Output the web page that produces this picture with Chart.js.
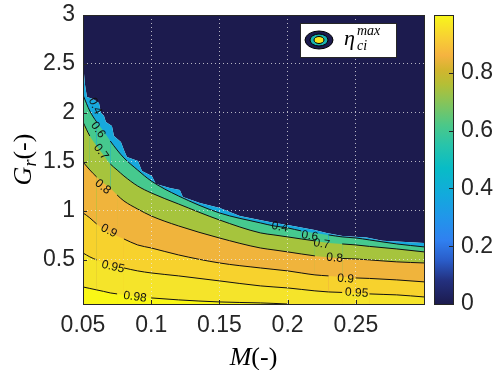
<!DOCTYPE html>
<html>
<head>
<meta charset="utf-8">
<script src="https://cdn.jsdelivr.net/npm/chart.js@4.4.1/dist/chart.umd.min.js"></script>
<style>
  html, body { margin: 0; padding: 0; background: #fff; }
</style>
</head>
<body>
<canvas id="chart" width="495" height="370"></canvas>
<script>
// Contour levels of eta_ci^max over (M, G_r).
const M_GRID = [0.05, 0.055, 0.06, 0.065, 0.07, 0.075, 0.08, 0.09, 0.1, 0.12, 0.15, 0.18, 0.19, 0.2, 0.21, 0.22, 0.23, 0.24, 0.25, 0.26, 0.28, 0.3];
const GR_060 = [2.184, 2.020, 1.908, 1.816, 1.714, 1.622, 1.541, 1.418, 1.306, 1.153, 0.980, 0.878, 0.847, 0.827, 0.796, 0.776, 0.755, 0.735, 0.724, 0.704, 0.663, 0.633];
const GR_070 = [1.908, 1.765, 1.663, 1.571, 1.480, 1.418, 1.357, 1.255, 1.184, 1.071, 0.908, 0.776, 0.755, 0.735, 0.714, 0.694, 0.673, 0.663, 0.653, 0.638, 0.612, 0.582];
const GR_080 = [1.500, 1.418, 1.347, 1.286, 1.235, 1.163, 1.102, 1.020, 0.949, 0.847, 0.724, 0.622, 0.602, 0.582, 0.561, 0.541, 0.526, 0.515, 0.510, 0.500, 0.480, 0.469];
const GR_090 = [0.980, 0.929, 0.867, 0.816, 0.776, 0.745, 0.714, 0.653, 0.622, 0.551, 0.469, 0.418, 0.403, 0.388, 0.367, 0.347, 0.337, 0.327, 0.316, 0.311, 0.296, 0.276];
const GR_095 = [0.571, 0.531, 0.500, 0.469, 0.449, 0.434, 0.418, 0.388, 0.367, 0.337, 0.286, 0.235, 0.224, 0.214, 0.199, 0.184, 0.173, 0.168, 0.163, 0.153, 0.143, 0.122];
// the 0.98 line runs into the bottom edge at M = 0.2
const GR_098 = [0.224, 0.209, 0.194, 0.179, 0.163, 0.153, 0.143, 0.122, 0.112, 0.092, 0.071, 0.061, 0.056, 0.050];

// jagged edge of the infeasible (dark) region, ~0.4 level
const EDGE_M = [0.05, 0.0515, 0.0529, 0.0573, 0.0617, 0.0632, 0.0654, 0.0668, 0.0712, 0.0727, 0.0778, 0.080, 0.0822, 0.0903, 0.0932, 0.1005, 0.1034, 0.1137, 0.121, 0.1232, 0.1357, 0.1503, 0.165, 0.1796, 0.1906, 0.2, 0.2198, 0.2286, 0.2403, 0.2579, 0.2696, 0.30];
const EDGE_GR = [2.51, 2.286, 2.163, 2.143, 2.102, 2.0, 1.969, 1.908, 1.867, 1.765, 1.704, 1.622, 1.551, 1.510, 1.408, 1.357, 1.276, 1.235, 1.214, 1.143, 1.082, 1.031, 0.949, 0.908, 0.878, 0.857, 0.806, 0.775, 0.745, 0.730, 0.695, 0.673];

// inline contour labels
const LABEL_LEVEL = [0.4, 0.6, 0.7, 0.8, 0.9, 0.95, 0.98, 0.4, 0.6, 0.7, 0.8, 0.9, 0.95];
const LABEL_M = [0.0588, 0.061, 0.0632, 0.0646, 0.069, 0.072, 0.0881, 0.1942, 0.2162, 0.225, 0.2345, 0.2425, 0.2506];
const LABEL_GR = [2.071, 1.827, 1.602, 1.245, 0.796, 0.429, 0.122, 0.837, 0.745, 0.663, 0.520, 0.306, 0.163];

const M_TICKS = [0.05, 0.1, 0.15, 0.2, 0.25];
const GR_TICKS = [0.5, 1, 1.5, 2, 2.5, 3];
const CB_TICKS = [0, 0.2, 0.4, 0.6, 0.8];

const NAVY = '#1c1b4e';
const INK = '#262626';
const BAND = { 0.4: '#17a9dd', 0.6: '#46c98e', 0.7: '#a6c43d', 0.8: '#f0b43c', 0.9: '#f7d22d', 0.95: '#f5e42a', 0.98: '#f9f716' };
const CB_STOPS = [
	[0.00, '#1c1b4e'], [0.08, '#23307e'], [0.15, '#2a5cc8'], [0.22, '#3080f0'],
	[0.30, '#2196ea'], [0.38, '#12aadc'], [0.47, '#08bcc6'], [0.55, '#28c4aa'],
	[0.62, '#4cc888'], [0.70, '#88c458'], [0.76, '#b4bf36'], [0.81, '#d2b52e'],
	[0.86, '#f5b340'], [0.92, '#f8cf34'], [1.00, '#f8f71a'],
];

const CONTOURS = [
	{ level: 0.98, xs: M_GRID.slice( 0, GR_098.length ), ys: GR_098 },
	{ level: 0.95, xs: M_GRID, ys: GR_095 },
	{ level: 0.9, xs: M_GRID, ys: GR_090 },
	{ level: 0.8, xs: M_GRID, ys: GR_080 },
	{ level: 0.7, xs: M_GRID, ys: GR_070 },
	{ level: 0.6, xs: M_GRID, ys: GR_060 },
	{ level: 0.4, xs: EDGE_M, ys: EDGE_GR, edge: true },
];

const toPoints = ( xs, ys ) => ys.map( ( y, i ) => ( { x: xs[ i ], y } ) );
const labelText = ( v ) => String( v );

function labelPixel( chart, i ) {
	return {
		x: chart.scales.x.getPixelForValue( LABEL_M[ i ] ),
		y: chart.scales.y.getPixelForValue( LABEL_GR[ i ] ),
	};
}

// Break the contour line where a label sits, like MATLAB clabel does.
function inLabelGap( ctx, level ) {
	const chart = ctx.chart;
	if ( ! chart || ! chart.scales || ! chart.scales.x ) {
		return false;
	}
	const mx = ( ctx.p0.x + ctx.p1.x ) / 2;
	const my = ( ctx.p0.y + ctx.p1.y ) / 2;
	for ( let i = 0; i < LABEL_LEVEL.length; i++ ) {
		if ( LABEL_LEVEL[ i ] !== level ) {
			continue;
		}
		const p = labelPixel( chart, i );
		const r = labelText( level ).length * 3.4 + 4;
		if ( Math.hypot( mx - p.x, my - p.y ) < r ) {
			return true;
		}
	}
	return false;
}

function interpAt( xs, ys, x ) {
	if ( x <= xs[ 0 ] ) return ys[ 0 ];
	for ( let i = 1; i < xs.length; i++ ) {
		if ( x <= xs[ i ] ) {
			const t = ( x - xs[ i - 1 ] ) / ( xs[ i ] - xs[ i - 1 ] );
			return ys[ i - 1 ] + t * ( ys[ i ] - ys[ i - 1 ] );
		}
	}
	return ys[ ys.length - 1 ];
}

const datasets = CONTOURS.map( ( c ) => ( {
	label: String( c.level ),
	data: toPoints( c.xs, c.ys ),
	fill: 'start',
	backgroundColor: BAND[ c.level ],
	borderColor: c.edge ? 'rgba(0,0,0,0)' : '#111',
	borderWidth: c.edge ? 0 : 1,
	pointRadius: 0,
	cubicInterpolationMode: c.edge ? 'default' : 'monotone',
	tension: 0,
	segment: {
		backgroundColor: () => BAND[ c.level ],
		borderColor: ( ctx ) => ( c.edge || inLabelGap( ctx, c.level ) ? 'rgba(0,0,0,0)' : '#111' ),
	},
} ) );

// dark region above the edge
datasets.push( {
	label: 'infeasible',
	data: toPoints( EDGE_M, EDGE_GR ),
	fill: 'end',
	backgroundColor: NAVY,
	borderWidth: 0,
	borderColor: 'rgba(0,0,0,0)',
	pointRadius: 0,
	tension: 0,
} );

function drawMixed( ctx, parts, x, y, align ) {
	const widths = parts.map( ( p ) => {
		ctx.font = p.font;
		return ctx.measureText( p.text ).width;
	} );
	const total = widths.reduce( ( a, b ) => a + b, 0 );
	let cx = align === 'center' ? x - total / 2 : x;
	parts.forEach( ( p, i ) => {
		ctx.font = p.font;
		ctx.fillText( p.text, cx, y + ( p.dy || 0 ) );
		cx += widths[ i ];
	} );
}

const decor = {
	id: 'decor',
	afterDraw( chart ) {
		const { ctx, chartArea: a, scales } = chart;
		ctx.save();

		// contour labels
		ctx.fillStyle = '#111';
		ctx.font = '12px "Liberation Sans", Arial, sans-serif';
		ctx.textAlign = 'center';
		ctx.textBaseline = 'middle';
		LABEL_LEVEL.forEach( ( level, i ) => {
			const c = CONTOURS.find( ( k ) => k.level === level );
			const w = c.edge ? 0.008 : 0.004;
			const m0 = LABEL_M[ i ] - w;
			const m1 = LABEL_M[ i ] + w;
			const x0 = scales.x.getPixelForValue( m0 );
			const x1 = scales.x.getPixelForValue( m1 );
			const y0 = scales.y.getPixelForValue( interpAt( c.xs, c.ys, m0 ) );
			const y1 = scales.y.getPixelForValue( interpAt( c.xs, c.ys, m1 ) );
			const p = labelPixel( chart, i );
			ctx.save();
			ctx.translate( p.x, p.y );
			ctx.rotate( Math.atan2( y1 - y0, x1 - x0 ) );
			ctx.fillText( labelText( level ), 0, 0 );
			ctx.restore();
		} );

		// axes box
		ctx.strokeStyle = INK;
		ctx.lineWidth = 1;
		ctx.strokeRect( Math.round( a.left ) + 0.5, Math.round( a.top ) + 0.5, Math.round( a.right - a.left ), Math.round( a.bottom - a.top ) );

		// inward tick marks
		ctx.beginPath();
		M_TICKS.forEach( ( v ) => {
			const px = Math.round( scales.x.getPixelForValue( v ) ) + 0.5;
			ctx.moveTo( px, a.bottom );
			ctx.lineTo( px, a.bottom - 4 );
		} );
		GR_TICKS.forEach( ( v ) => {
			const py = Math.round( scales.y.getPixelForValue( v ) ) + 0.5;
			ctx.moveTo( a.left, py );
			ctx.lineTo( a.left + 4, py );
		} );
		ctx.stroke();

		// colorbar
		const cb = scales.cb;
		const bx = Math.round( a.right ) + 10;
		const bw = 19;
		const top = cb.getPixelForValue( 1 );
		const bottom = cb.getPixelForValue( 0 );
		const grad = ctx.createLinearGradient( 0, bottom, 0, top );
		CB_STOPS.forEach( ( [ v, col ] ) => grad.addColorStop( v, col ) );
		ctx.fillStyle = grad;
		ctx.fillRect( bx, top, bw, bottom - top );
		ctx.strokeStyle = INK;
		ctx.strokeRect( bx + 0.5, Math.round( top ) + 0.5, bw, Math.round( bottom - top ) );
		ctx.beginPath();
		CB_TICKS.forEach( ( v ) => {
			const py = Math.round( cb.getPixelForValue( v ) ) + 0.5;
			ctx.moveTo( bx + bw, py );
			ctx.lineTo( bx + bw - 4, py );
		} );
		ctx.stroke();

		// legend box
		const lx = a.right - 124;
		const ly = a.top + 8;
		ctx.fillStyle = '#fff';
		ctx.fillRect( lx, ly, 96, 34 );
		ctx.strokeStyle = INK;
		ctx.strokeRect( lx + 0.5, ly + 0.5, 96, 34 );
		const ex = lx + 19;
		const ey = ly + 17;
		[ [ 14, 9, NAVY ], [ 9, 6, '#19b3b0' ], [ 5, 3.5, '#f5e61e' ] ].forEach( ( [ rx, ry, col ] ) => {
			ctx.beginPath();
			ctx.ellipse( ex, ey, rx, ry, 0, 0, Math.PI * 2 );
			ctx.fillStyle = col;
			ctx.fill();
			ctx.strokeStyle = '#000';
			ctx.stroke();
		} );
		ctx.fillStyle = '#000';
		ctx.textAlign = 'left';
		ctx.textBaseline = 'alphabetic';
		ctx.font = 'italic 22px "Liberation Serif", serif';
		ctx.fillText( 'η', lx + 44, ly + 22 );
		ctx.font = 'italic 14px "Liberation Serif", serif';
		ctx.fillText( 'max', lx + 57, ly + 12 );
		ctx.fillText( 'ci', lx + 57, ly + 27 );

		// axis titles
		ctx.fillStyle = '#000';
		drawMixed( ctx, [
			{ text: 'M', font: 'italic 26px "Liberation Serif", serif' },
			{ text: '(-)', font: '26px "Liberation Serif", serif' },
		], ( a.left + a.right ) / 2, 365, 'center' );

		ctx.save();
		ctx.translate( 31, ( a.top + a.bottom ) / 2 );
		ctx.rotate( -Math.PI / 2 );
		drawMixed( ctx, [
			{ text: 'G', font: 'italic 26px "Liberation Serif", serif' },
			{ text: 'r', font: 'italic 18px "Liberation Serif", serif', dy: 5 },
			{ text: '(-)', font: '26px "Liberation Serif", serif' },
		], 0, 0, 'center' );
		ctx.restore();

		ctx.restore();
	},
};

// fixed axis sizes, no extra label overhang padding
const fixSize = ( w, h ) => ( s ) => {
	if ( w != null ) s.width = w;
	if ( h != null ) s.height = h;
	s.paddingTop = 0;
	s.paddingBottom = 0;
	s.paddingLeft = 0;
	s.paddingRight = 0;
};

const tickFont = { family: '"Liberation Sans", Arial, sans-serif', size: 23 };
const gridStyle = { color: 'rgba(235,235,235,0.75)', lineWidth: 1, drawTicks: false, z: 1 };

new Chart( document.getElementById( 'chart' ), {
	type: 'line',
	data: { datasets },
	options: {
		responsive: false,
		animation: false,
		devicePixelRatio: 1,
		layout: { padding: { left: 43, right: 2, top: 15, bottom: 30 } },
		plugins: { legend: { display: false }, tooltip: { enabled: false } },
		scales: {
			x: {
				type: 'linear',
				min: 0.05,
				max: 0.3,
				z: 1,
				grid: gridStyle,
				border: { display: false, dash: [ 1, 3 ] },
				afterBuildTicks: ( s ) => { s.ticks = M_TICKS.map( ( v ) => ( { value: v } ) ); },
				afterFit: fixSize( null, 36 ),
				ticks: { font: tickFont, color: INK, padding: 8, maxRotation: 0, callback: ( v ) => String( +v.toFixed( 2 ) ) },
			},
			y: {
				type: 'linear',
				min: 0.05,
				max: 3,
				z: 1,
				grid: gridStyle,
				border: { display: false, dash: [ 1, 3 ] },
				afterBuildTicks: ( s ) => { s.ticks = GR_TICKS.map( ( v ) => ( { value: v } ) ); },
				afterFit: fixSize( 40, null ),
				ticks: { font: tickFont, color: INK, padding: 8, callback: ( v ) => String( +v.toFixed( 2 ) ) },
			},
			cb: {
				type: 'linear',
				position: 'right',
				min: 0,
				max: 1,
				grid: { display: false, drawTicks: false },
				border: { display: false },
				afterBuildTicks: ( s ) => { s.ticks = CB_TICKS.map( ( v ) => ( { value: v } ) ); },
				afterFit: fixSize( 69, null ),
				ticks: { font: tickFont, color: INK, padding: 37, callback: ( v ) => String( +v.toFixed( 2 ) ) },
			},
		},
	},
	plugins: [ decor ],
} );
</script>
</body>
</html>
